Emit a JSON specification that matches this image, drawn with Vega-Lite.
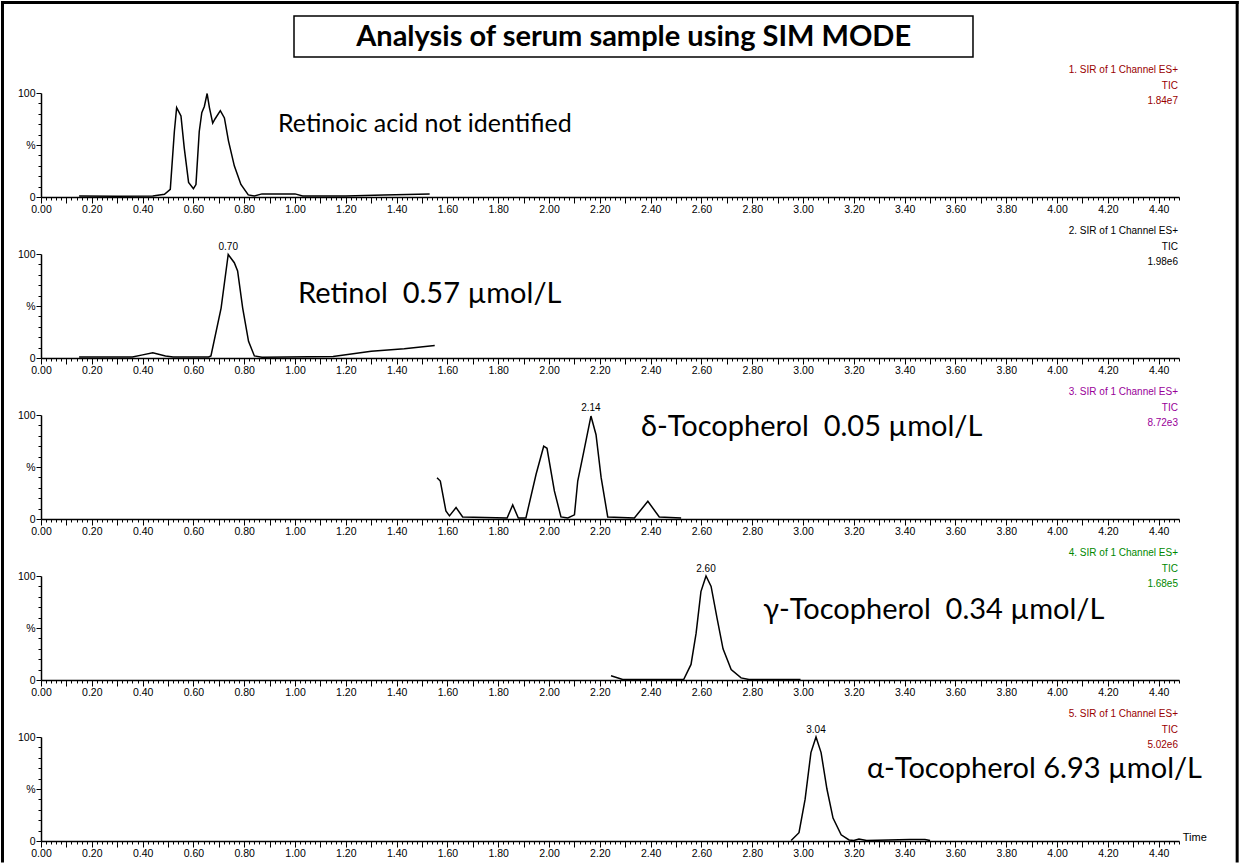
{
"$schema": "https://vega.github.io/schema/vega-lite/v6.json",
"padding": 0,
"background": "white",
"spacing": 57,
"bounds": "flush",
"config": {"view": {"stroke": null}, "axis": {"grid": false, "labelOverlap": false}},
"datasets": {
"curves": [
{"panel":1,"t":0.15,"pct":1},{"panel":1,"t":0.30,"pct":0.8},{"panel":1,"t":0.44,"pct":1},{"panel":1,"t":0.486,"pct":2.6},{"panel":1,"t":0.509,"pct":7.4},{"panel":1,"t":0.525,"pct":63},{"panel":1,"t":0.534,"pct":86},{"panel":1,"t":0.551,"pct":78},{"panel":1,"t":0.564,"pct":47},{"panel":1,"t":0.581,"pct":14},{"panel":1,"t":0.600,"pct":8},{"panel":1,"t":0.610,"pct":12},{"panel":1,"t":0.623,"pct":63},{"panel":1,"t":0.633,"pct":81},{"panel":1,"t":0.643,"pct":87},{"panel":1,"t":0.654,"pct":99.5},{"panel":1,"t":0.663,"pct":86},{"panel":1,"t":0.676,"pct":71},{"panel":1,"t":0.685,"pct":75},{"panel":1,"t":0.706,"pct":83},{"panel":1,"t":0.722,"pct":76},{"panel":1,"t":0.738,"pct":54},{"panel":1,"t":0.761,"pct":30},{"panel":1,"t":0.787,"pct":12},{"panel":1,"t":0.816,"pct":2},{"panel":1,"t":0.84,"pct":1},{"panel":1,"t":0.87,"pct":3},{"panel":1,"t":1.0,"pct":3},{"panel":1,"t":1.03,"pct":1},{"panel":1,"t":1.2,"pct":1},{"panel":1,"t":1.35,"pct":2},{"panel":1,"t":1.53,"pct":3},
{"panel":2,"t":0.15,"pct":1},{"panel":2,"t":0.36,"pct":1},{"panel":2,"t":0.40,"pct":3},{"panel":2,"t":0.44,"pct":5},{"panel":2,"t":0.49,"pct":2},{"panel":2,"t":0.52,"pct":1},{"panel":2,"t":0.66,"pct":1},{"panel":2,"t":0.669,"pct":2},{"panel":2,"t":0.709,"pct":48},{"panel":2,"t":0.737,"pct":99.5},{"panel":2,"t":0.761,"pct":91.6},{"panel":2,"t":0.774,"pct":83.7},{"panel":2,"t":0.794,"pct":48},{"panel":2,"t":0.817,"pct":16},{"panel":2,"t":0.84,"pct":2},{"panel":2,"t":0.87,"pct":0.8},{"panel":2,"t":1.15,"pct":1.5},{"panel":2,"t":1.30,"pct":6.5},{"panel":2,"t":1.43,"pct":9},{"panel":2,"t":1.55,"pct":12},
{"panel":3,"t":1.559,"pct":39.7},{"panel":3,"t":1.572,"pct":36.5},{"panel":3,"t":1.594,"pct":7.7},{"panel":3,"t":1.608,"pct":3},{"panel":3,"t":1.634,"pct":11},{"panel":3,"t":1.660,"pct":2},{"panel":3,"t":1.835,"pct":1},{"panel":3,"t":1.857,"pct":13.5},{"panel":3,"t":1.879,"pct":1},{"panel":3,"t":1.909,"pct":1},{"panel":3,"t":1.949,"pct":43},{"panel":3,"t":1.979,"pct":70},{"panel":3,"t":1.992,"pct":68},{"panel":3,"t":2.021,"pct":27},{"panel":3,"t":2.047,"pct":2},{"panel":3,"t":2.074,"pct":1},{"panel":3,"t":2.100,"pct":4},{"panel":3,"t":2.113,"pct":36.5},{"panel":3,"t":2.137,"pct":65},{"panel":3,"t":2.165,"pct":99},{"panel":3,"t":2.185,"pct":81},{"panel":3,"t":2.205,"pct":40},{"panel":3,"t":2.231,"pct":2},{"panel":3,"t":2.336,"pct":1},{"panel":3,"t":2.389,"pct":17},{"panel":3,"t":2.434,"pct":2},{"panel":3,"t":2.52,"pct":1},
{"panel":4,"t":2.244,"pct":4},{"panel":4,"t":2.29,"pct":0.5},{"panel":4,"t":2.53,"pct":0.5},{"panel":4,"t":2.559,"pct":15},{"panel":4,"t":2.579,"pct":45},{"panel":4,"t":2.598,"pct":85},{"panel":4,"t":2.618,"pct":100},{"panel":4,"t":2.638,"pct":90},{"panel":4,"t":2.661,"pct":60},{"panel":4,"t":2.685,"pct":30},{"panel":4,"t":2.717,"pct":10},{"panel":4,"t":2.756,"pct":2},{"panel":4,"t":2.787,"pct":0.5},{"panel":4,"t":2.99,"pct":0.5},
{"panel":5,"t":2.953,"pct":0.5},{"panel":5,"t":2.984,"pct":8},{"panel":5,"t":3.008,"pct":40},{"panel":5,"t":3.031,"pct":85},{"panel":5,"t":3.051,"pct":100},{"panel":5,"t":3.071,"pct":85},{"panel":5,"t":3.094,"pct":50},{"panel":5,"t":3.118,"pct":22},{"panel":5,"t":3.15,"pct":6},{"panel":5,"t":3.181,"pct":1},{"panel":5,"t":3.20,"pct":0.5},{"panel":5,"t":3.22,"pct":2},{"panel":5,"t":3.25,"pct":0.5},{"panel":5,"t":3.42,"pct":1.5},{"panel":5,"t":3.48,"pct":1.5},{"panel":5,"t":3.50,"pct":0.5}
],
"peaks": [
{"panel":2,"t":0.737,"pct":100,"txt":"0.70"},
{"panel":3,"t":2.165,"pct":100,"txt":"2.14"},
{"panel":4,"t":2.618,"pct":100,"txt":"2.60"},
{"panel":5,"t":3.051,"pct":100,"txt":"3.04"}
],
"channels": [
{"panel":1,"txt":"1. SIR of 1 Channel ES+\nTIC\n1.84e7"},
{"panel":2,"txt":"2. SIR of 1 Channel ES+\nTIC\n1.98e6"},
{"panel":3,"txt":"3. SIR of 1 Channel ES+\nTIC\n8.72e3"},
{"panel":4,"txt":"4. SIR of 1 Channel ES+\nTIC\n1.68e5"},
{"panel":5,"txt":"5. SIR of 1 Channel ES+\nTIC\n5.02e6"}
],
"notes": [
{"panel":1,"t":0.933,"pct":70.2,"txt":"Retinoic acid not identified"},
{"panel":2,"t":1.012,"pct":61.5,"txt":"Retinol \u00a00.57 µmol/L"},
{"panel":3,"t":2.362,"pct":88.5,"txt":"δ-Tocopherol \u00a00.05 µmol/L"},
{"panel":4,"t":2.843,"pct":67.3,"txt":"γ-Tocopherol \u00a00.34 µmol/L"},
{"panel":5,"t":3.252,"pct":69.2,"txt":"α-Tocopherol 6.93 µmol/L"}
],
"title": [{"txt":"Analysis of serum sample using SIM MODE"}],
"timelabel": [{"txt":"Time"}]
},
"vconcat": [
{
"width": 1138, "height": 104,
"resolve": {"axis": {"y": "independent"}},
"layer": [
{"data": {"name": "curves"}, "transform": [{"filter": "datum.panel == 1"}],
 "mark": {"type": "line", "color": "black", "strokeWidth": 1.5},
 "encoding": {
  "x": {"field": "t", "type": "quantitative", "title": null, "scale": {"domain": [0, 4.48], "nice": false, "zero": false},
   "axis": {"title": null, "tickCount": 225, "labelExpr": "abs(datum.value*5 - round(datum.value*5)) < 0.001 ? format(datum.value, '.2f') : ''", "tickSize": {"condition": {"test": "abs(datum.value*10 - round(datum.value*10)) < 0.001", "value": 6}, "value": 3}, "labelOverlap": false, "labelFlush": false, "labelFont": "Liberation Sans", "labelFontSize": 10.5, "labelColor": "black", "domainColor": "black", "tickColor": "black", "labelPadding": 1, "domainWidth": 1.5}},
  "y": {"field": "pct", "type": "quantitative", "title": null, "scale": {"domain": [0, 100], "nice": false},
   "axis": {"title": null, "orient": "left", "values": [0, 50, 100], "labelExpr": "datum.value == 50 ? '%' : datum.label", "labelFlush": false, "tickSize": 5, "labelFont": "Liberation Sans", "labelFontSize": 10.5, "labelColor": "black", "domainColor": "black", "tickColor": "black", "labelPadding": 1, "domainWidth": 1.5}}
 }},
{"data": {"name": "notes"}, "transform": [{"filter": "datum.panel == 1"}],
 "mark": {"type": "text", "align": "left", "baseline": "middle", "font": "Lato", "fontSize": 25, "color": "black"},
 "encoding": {"x": {"field": "t", "type": "quantitative", "title": null}, "y": {"field": "pct", "type": "quantitative", "title": null, "axis": {"title": null, "orient": "left", "values": [10,20,30,40,60,70,80,90], "labels": false, "domain": false, "tickSize": 3, "tickColor": "black"}}, "text": {"field": "txt"}}},
{"data": {"name": "channels"}, "transform": [{"filter": "datum.panel == 1"}],
 "mark": {"type": "text", "align": "right", "baseline": "alphabetic", "font": "Liberation Sans", "fontSize": 10, "color": "#990000", "lineBreak": "\n", "lineHeight": 15.5},
 "encoding": {"x": {"datum": 4.476, "type": "quantitative", "title": null}, "y": {"datum": 119.2, "type": "quantitative", "axis": null}, "text": {"field": "txt"}}},
{"data": {"name": "title"},
 "mark": {"type": "rect", "fillOpacity": 0, "stroke": "black", "strokeWidth": 1.5},
 "encoding": {"x": {"datum": 0.996, "type": "quantitative", "title": null}, "x2": {"datum": 3.669}, "y": {"datum": 174, "type": "quantitative", "axis": null}, "y2": {"datum": 134.6}}},
{"data": {"name": "title"},
 "mark": {"type": "text", "align": "center", "baseline": "middle", "font": "Lato", "fontSize": 29, "fontWeight": "bold", "color": "black"},
 "encoding": {"x": {"datum": 2.333, "type": "quantitative", "title": null}, "y": {"datum": 153.8, "type": "quantitative", "axis": null}, "text": {"field": "txt"}}},
{"data": {"name": "title"},
 "mark": {"type": "rule", "color": "black", "strokeWidth": 3, "strokeCap": "square"},
 "encoding": {"x": {"datum": -0.1516, "type": "quantitative", "title": null}, "y": {"datum": 187, "type": "quantitative", "axis": null}, "y2": {"datum": -638.5}}},
{"data": {"name": "title"},
 "mark": {"type": "rule", "color": "black", "strokeWidth": 3, "strokeCap": "square"},
 "encoding": {"x": {"datum": 4.709, "type": "quantitative", "title": null}, "y": {"datum": 187, "type": "quantitative", "axis": null}, "y2": {"datum": -638.5}}},
{"data": {"name": "title"},
 "mark": {"type": "rule", "color": "black", "strokeWidth": 3, "strokeCap": "square"},
 "encoding": {"x": {"datum": -0.1516, "type": "quantitative", "title": null}, "x2": {"datum": 4.709}, "y": {"datum": 187, "type": "quantitative", "axis": null}}}
]
},
{
"width": 1138, "height": 104,
"resolve": {"axis": {"y": "independent"}},
"layer": [
{"data": {"name": "curves"}, "transform": [{"filter": "datum.panel == 2"}],
 "mark": {"type": "line", "color": "black", "strokeWidth": 1.5},
 "encoding": {
  "x": {"field": "t", "type": "quantitative", "title": null, "scale": {"domain": [0, 4.48], "nice": false, "zero": false},
   "axis": {"title": null, "tickCount": 225, "labelExpr": "abs(datum.value*5 - round(datum.value*5)) < 0.001 ? format(datum.value, '.2f') : ''", "tickSize": {"condition": {"test": "abs(datum.value*10 - round(datum.value*10)) < 0.001", "value": 6}, "value": 3}, "labelOverlap": false, "labelFlush": false, "labelFont": "Liberation Sans", "labelFontSize": 10.5, "labelColor": "black", "domainColor": "black", "tickColor": "black", "labelPadding": 1, "domainWidth": 1.5}},
  "y": {"field": "pct", "type": "quantitative", "title": null, "scale": {"domain": [0, 100], "nice": false},
   "axis": {"title": null, "orient": "left", "values": [0, 50, 100], "labelExpr": "datum.value == 50 ? '%' : datum.label", "labelFlush": false, "tickSize": 5, "labelFont": "Liberation Sans", "labelFontSize": 10.5, "labelColor": "black", "domainColor": "black", "tickColor": "black", "labelPadding": 1, "domainWidth": 1.5}}
 }},
{"data": {"name": "notes"}, "transform": [{"filter": "datum.panel == 2"}],
 "mark": {"type": "text", "align": "left", "baseline": "middle", "font": "Lato", "fontSize": 29, "color": "black"},
 "encoding": {"x": {"field": "t", "type": "quantitative", "title": null}, "y": {"field": "pct", "type": "quantitative", "title": null, "axis": {"title": null, "orient": "left", "values": [10,20,30,40,60,70,80,90], "labels": false, "domain": false, "tickSize": 3, "tickColor": "black"}}, "text": {"field": "txt"}}},
{"data": {"name": "channels"}, "transform": [{"filter": "datum.panel == 2"}],
 "mark": {"type": "text", "align": "right", "baseline": "alphabetic", "font": "Liberation Sans", "fontSize": 10, "color": "black", "lineBreak": "\n", "lineHeight": 15.5},
 "encoding": {"x": {"datum": 4.476, "type": "quantitative", "title": null}, "y": {"datum": 119.2, "type": "quantitative", "axis": null}, "text": {"field": "txt"}}},
{"data": {"name": "peaks"}, "transform": [{"filter": "datum.panel == 2"}],
 "mark": {"type": "text", "align": "center", "baseline": "bottom", "dy": -2, "font": "Liberation Sans", "fontSize": 10, "color": "black"},
 "encoding": {"x": {"field": "t", "type": "quantitative", "title": null}, "y": {"field": "pct", "type": "quantitative", "axis": null}, "text": {"field": "txt"}}}
]
},
{
"width": 1138, "height": 104,
"resolve": {"axis": {"y": "independent"}},
"layer": [
{"data": {"name": "curves"}, "transform": [{"filter": "datum.panel == 3"}],
 "mark": {"type": "line", "color": "black", "strokeWidth": 1.5},
 "encoding": {
  "x": {"field": "t", "type": "quantitative", "title": null, "scale": {"domain": [0, 4.48], "nice": false, "zero": false},
   "axis": {"title": null, "tickCount": 225, "labelExpr": "abs(datum.value*5 - round(datum.value*5)) < 0.001 ? format(datum.value, '.2f') : ''", "tickSize": {"condition": {"test": "abs(datum.value*10 - round(datum.value*10)) < 0.001", "value": 6}, "value": 3}, "labelOverlap": false, "labelFlush": false, "labelFont": "Liberation Sans", "labelFontSize": 10.5, "labelColor": "black", "domainColor": "black", "tickColor": "black", "labelPadding": 1, "domainWidth": 1.5}},
  "y": {"field": "pct", "type": "quantitative", "title": null, "scale": {"domain": [0, 100], "nice": false},
   "axis": {"title": null, "orient": "left", "values": [0, 50, 100], "labelExpr": "datum.value == 50 ? '%' : datum.label", "labelFlush": false, "tickSize": 5, "labelFont": "Liberation Sans", "labelFontSize": 10.5, "labelColor": "black", "domainColor": "black", "tickColor": "black", "labelPadding": 1, "domainWidth": 1.5}}
 }},
{"data": {"name": "notes"}, "transform": [{"filter": "datum.panel == 3"}],
 "mark": {"type": "text", "align": "left", "baseline": "middle", "font": "Lato", "fontSize": 29, "color": "black"},
 "encoding": {"x": {"field": "t", "type": "quantitative", "title": null}, "y": {"field": "pct", "type": "quantitative", "title": null, "axis": {"title": null, "orient": "left", "values": [10,20,30,40,60,70,80,90], "labels": false, "domain": false, "tickSize": 3, "tickColor": "black"}}, "text": {"field": "txt"}}},
{"data": {"name": "channels"}, "transform": [{"filter": "datum.panel == 3"}],
 "mark": {"type": "text", "align": "right", "baseline": "alphabetic", "font": "Liberation Sans", "fontSize": 10, "color": "#990099", "lineBreak": "\n", "lineHeight": 15.5},
 "encoding": {"x": {"datum": 4.476, "type": "quantitative", "title": null}, "y": {"datum": 119.2, "type": "quantitative", "axis": null}, "text": {"field": "txt"}}},
{"data": {"name": "peaks"}, "transform": [{"filter": "datum.panel == 3"}],
 "mark": {"type": "text", "align": "center", "baseline": "bottom", "dy": -2, "font": "Liberation Sans", "fontSize": 10, "color": "black"},
 "encoding": {"x": {"field": "t", "type": "quantitative", "title": null}, "y": {"field": "pct", "type": "quantitative", "axis": null}, "text": {"field": "txt"}}}
]
},
{
"width": 1138, "height": 104,
"resolve": {"axis": {"y": "independent"}},
"layer": [
{"data": {"name": "curves"}, "transform": [{"filter": "datum.panel == 4"}],
 "mark": {"type": "line", "color": "black", "strokeWidth": 1.5},
 "encoding": {
  "x": {"field": "t", "type": "quantitative", "title": null, "scale": {"domain": [0, 4.48], "nice": false, "zero": false},
   "axis": {"title": null, "tickCount": 225, "labelExpr": "abs(datum.value*5 - round(datum.value*5)) < 0.001 ? format(datum.value, '.2f') : ''", "tickSize": {"condition": {"test": "abs(datum.value*10 - round(datum.value*10)) < 0.001", "value": 6}, "value": 3}, "labelOverlap": false, "labelFlush": false, "labelFont": "Liberation Sans", "labelFontSize": 10.5, "labelColor": "black", "domainColor": "black", "tickColor": "black", "labelPadding": 1, "domainWidth": 1.5}},
  "y": {"field": "pct", "type": "quantitative", "title": null, "scale": {"domain": [0, 100], "nice": false},
   "axis": {"title": null, "orient": "left", "values": [0, 50, 100], "labelExpr": "datum.value == 50 ? '%' : datum.label", "labelFlush": false, "tickSize": 5, "labelFont": "Liberation Sans", "labelFontSize": 10.5, "labelColor": "black", "domainColor": "black", "tickColor": "black", "labelPadding": 1, "domainWidth": 1.5}}
 }},
{"data": {"name": "notes"}, "transform": [{"filter": "datum.panel == 4"}],
 "mark": {"type": "text", "align": "left", "baseline": "middle", "font": "Lato", "fontSize": 29, "color": "black"},
 "encoding": {"x": {"field": "t", "type": "quantitative", "title": null}, "y": {"field": "pct", "type": "quantitative", "title": null, "axis": {"title": null, "orient": "left", "values": [10,20,30,40,60,70,80,90], "labels": false, "domain": false, "tickSize": 3, "tickColor": "black"}}, "text": {"field": "txt"}}},
{"data": {"name": "channels"}, "transform": [{"filter": "datum.panel == 4"}],
 "mark": {"type": "text", "align": "right", "baseline": "alphabetic", "font": "Liberation Sans", "fontSize": 10, "color": "#008800", "lineBreak": "\n", "lineHeight": 15.5},
 "encoding": {"x": {"datum": 4.476, "type": "quantitative", "title": null}, "y": {"datum": 119.2, "type": "quantitative", "axis": null}, "text": {"field": "txt"}}},
{"data": {"name": "peaks"}, "transform": [{"filter": "datum.panel == 4"}],
 "mark": {"type": "text", "align": "center", "baseline": "bottom", "dy": -2, "font": "Liberation Sans", "fontSize": 10, "color": "black"},
 "encoding": {"x": {"field": "t", "type": "quantitative", "title": null}, "y": {"field": "pct", "type": "quantitative", "axis": null}, "text": {"field": "txt"}}}
]
},
{
"width": 1138, "height": 104,
"resolve": {"axis": {"y": "independent"}},
"layer": [
{"data": {"name": "curves"}, "transform": [{"filter": "datum.panel == 5"}],
 "mark": {"type": "line", "color": "black", "strokeWidth": 1.5},
 "encoding": {
  "x": {"field": "t", "type": "quantitative", "title": null, "scale": {"domain": [0, 4.48], "nice": false, "zero": false},
   "axis": {"title": null, "tickCount": 225, "labelExpr": "abs(datum.value*5 - round(datum.value*5)) < 0.001 ? format(datum.value, '.2f') : ''", "tickSize": {"condition": {"test": "abs(datum.value*10 - round(datum.value*10)) < 0.001", "value": 6}, "value": 3}, "labelOverlap": false, "labelFlush": false, "labelFont": "Liberation Sans", "labelFontSize": 10.5, "labelColor": "black", "domainColor": "black", "tickColor": "black", "labelPadding": 1, "domainWidth": 1.5}},
  "y": {"field": "pct", "type": "quantitative", "title": null, "scale": {"domain": [0, 100], "nice": false},
   "axis": {"title": null, "orient": "left", "values": [0, 50, 100], "labelExpr": "datum.value == 50 ? '%' : datum.label", "labelFlush": false, "tickSize": 5, "labelFont": "Liberation Sans", "labelFontSize": 10.5, "labelColor": "black", "domainColor": "black", "tickColor": "black", "labelPadding": 1, "domainWidth": 1.5}}
 }},
{"data": {"name": "notes"}, "transform": [{"filter": "datum.panel == 5"}],
 "mark": {"type": "text", "align": "left", "baseline": "middle", "font": "Lato", "fontSize": 29, "color": "black"},
 "encoding": {"x": {"field": "t", "type": "quantitative", "title": null}, "y": {"field": "pct", "type": "quantitative", "title": null, "axis": {"title": null, "orient": "left", "values": [10,20,30,40,60,70,80,90], "labels": false, "domain": false, "tickSize": 3, "tickColor": "black"}}, "text": {"field": "txt"}}},
{"data": {"name": "channels"}, "transform": [{"filter": "datum.panel == 5"}],
 "mark": {"type": "text", "align": "right", "baseline": "alphabetic", "font": "Liberation Sans", "fontSize": 10, "color": "#990000", "lineBreak": "\n", "lineHeight": 15.5},
 "encoding": {"x": {"datum": 4.476, "type": "quantitative", "title": null}, "y": {"datum": 119.2, "type": "quantitative", "axis": null}, "text": {"field": "txt"}}},
{"data": {"name": "peaks"}, "transform": [{"filter": "datum.panel == 5"}],
 "mark": {"type": "text", "align": "center", "baseline": "bottom", "dy": -2, "font": "Liberation Sans", "fontSize": 10, "color": "black"},
 "encoding": {"x": {"field": "t", "type": "quantitative", "title": null}, "y": {"field": "pct", "type": "quantitative", "axis": null}, "text": {"field": "txt"}}},
{"data": {"name": "timelabel"},
 "mark": {"type": "text", "align": "left", "baseline": "middle", "font": "Liberation Sans", "fontSize": 11, "color": "black"},
 "encoding": {"x": {"datum": 4.495, "type": "quantitative", "title": null}, "y": {"datum": 3, "type": "quantitative", "axis": null}, "text": {"field": "txt"}}}
]
}
]
}
